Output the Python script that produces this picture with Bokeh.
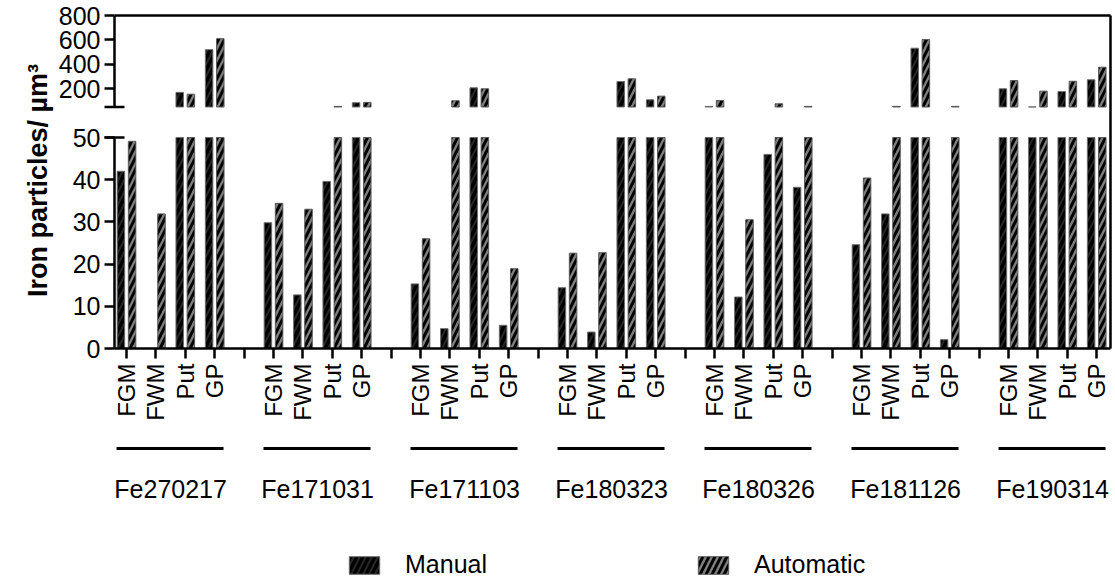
import numpy as np
from bokeh.plotting import figure
from bokeh.models import (Range1d, LinearAxis, FixedTicker, ColumnDataSource,
                          Legend, LegendItem)
from bokeh.core.properties import value
from bokeh.embed import file_html
from bokeh.resources import INLINE

# ---------------------------------------------------------------- data
groups = ["Fe270217", "Fe171031", "Fe171103", "Fe180323",
          "Fe180326", "Fe181126", "Fe190314"]
regions = ["FGM", "FWM", "Put", "GP"]

# iron particles per µm³, listed group by group in the order of `regions`
manual = [
    42.0, 0.0, 170, 520,
    29.8, 12.7, 39.6, 85,
    15.3, 4.7, 207, 5.5,
    14.4, 3.9, 259, 109,
    55, 12.2, 46.0, 38.2,
    24.6, 31.9, 532, 2.1,
    199, 51, 177, 273,
]
automatic = [
    49.1, 31.9, 155, 610,
    34.4, 33.0, 55, 88,
    26.0, 101, 199, 18.9,
    22.6, 22.7, 281, 139,
    103, 30.5, 76, 55,
    40.4, 55, 603, 55,
    267, 180, 261, 376,
]

low_ticks = [0, 10, 20, 30, 40, 50]
high_ticks = [200, 400, 600, 800]
BREAK = 50          # lower segment 0..50, upper segment 50..800
TOP = 800
YLABEL = "Iron particles/ µm³"
SERIES = ["Manual", "Automatic"]

# ---------------------------------------------------------------- geometry
W, H = 1115, 583
FONT = "Liberation Sans"
X0_PX, DX = 126.0, 29.4          # first category tick, category step
BASE_PX, LOW_STEP = 348.0, 4.22  # y of 0, pixels per unit (lower segment)
TOP_PX, BREAK_PX = 15.0, 106.5   # y of 800 and of 50 (upper segment)
HI_STEP = (BREAK_PX - TOP_PX) / (TOP - BREAK)

x_range = Range1d(-X0_PX / DX, (W - X0_PX) / DX)
y_range = Range1d(-(H - BASE_PX) / LOW_STEP, BASE_PX / LOW_STEP)
top_range = Range1d(BREAK - (H - BREAK_PX) / HI_STEP, BREAK + BREAK_PX / HI_STEP)


def low_y(px):
    return (BASE_PX - px) / LOW_STEP


AX_X = (114 - X0_PX) / DX        # y axis position in category units
RIGHT_X = (1110 - X0_PX) / DX
FRAME_TOP = low_y(TOP_PX)

p = figure(width=W, height=H, x_range=x_range, y_range=y_range,
           output_backend="svg", toolbar_location=None,
           x_axis_type=None, y_axis_type=None, min_border=0,
           outline_line_color=None, background_fill_color="white")
p.extra_y_ranges = {"top": top_range}
p.grid.visible = False

# ---------------------------------------------------------------- bars
n_slot = len(regions) + 1
pos = np.array([g * n_slot + r for g in range(len(groups))
                for r in range(len(regions))], dtype=float)
man = np.array(manual, dtype=float)
aut = np.array(automatic, dtype=float)

OFF, BW = 0.19, 0.255
man_style = dict(fill_color="black", line_color="#707070", line_width=1,
                 hatch_pattern="/", hatch_color="#262626", hatch_weight=2,
                 hatch_scale=12)
aut_style = dict(fill_color="#7f7f7f", line_color="#5a5a5a", line_width=1,
                 hatch_pattern="/", hatch_color="black", hatch_weight=3,
                 hatch_scale=12)

renderers = {}
for name, vals, off, style in (("Manual", man, -OFF, man_style),
                               ("Automatic", aut, OFF, aut_style)):
    low_src = ColumnDataSource(dict(x=pos + off, top=np.minimum(vals, BREAK)))
    r = p.vbar(x="x", top="top", bottom=0, width=BW, source=low_src, **style)
    renderers[name] = r
    hi = vals > BREAK
    hi_src = ColumnDataSource(dict(x=(pos + off)[hi], top=vals[hi]))
    p.vbar(x="x", top="top", bottom=BREAK, width=BW, source=hi_src,
           y_range_name="top", **style)

# ---------------------------------------------------------------- axes
def style_axis(ax, size="24px"):
    ax.axis_line_width = 2.5
    ax.axis_line_color = "black"
    ax.major_tick_line_width = 2.5
    ax.major_tick_line_color = "black"
    ax.major_tick_out = 10
    ax.major_tick_in = 0
    ax.minor_tick_line_color = None
    ax.major_label_text_font = FONT
    ax.major_label_text_font_size = size
    ax.major_label_text_color = "black"


y_low = LinearAxis(fixed_location=AX_X, bounds=(0, BREAK),
                   ticker=FixedTicker(ticks=low_ticks))
style_axis(y_low, "25px")
y_low.major_label_standoff = 4
p.add_layout(y_low, "left")

y_high = LinearAxis(y_range_name="top", fixed_location=AX_X,
                    bounds=(BREAK, TOP), ticker=FixedTicker(ticks=high_ticks))
style_axis(y_high, "25px")
y_high.major_label_standoff = 4
p.add_layout(y_high, "left")

tick_pos = list(range(len(groups) * n_slot - 1))
overrides = {}
for t in tick_pos:
    r = t % n_slot
    overrides[t] = regions[r] if r < len(regions) else ""
x_axis = LinearAxis(fixed_location=0, bounds=(AX_X, RIGHT_X),
                    ticker=FixedTicker(ticks=tick_pos),
                    major_label_overrides=overrides,
                    major_label_orientation=np.pi / 2)
style_axis(x_axis)
x_axis.major_label_standoff = 5
p.add_layout(x_axis, "below")

# frame lines along the top and the right
top_line = LinearAxis(fixed_location=FRAME_TOP, bounds=(AX_X, RIGHT_X),
                      ticker=FixedTicker(ticks=[]))
style_axis(top_line)
p.add_layout(top_line, "above")
right_line = LinearAxis(fixed_location=RIGHT_X, bounds=(0, FRAME_TOP),
                        ticker=FixedTicker(ticks=[]))
style_axis(right_line)
p.add_layout(right_line, "right")

# break marks where the two segments end
cap = 10 / DX
p.segment(x0=[AX_X - cap], x1=[AX_X + cap], y0=[BREAK], y1=[BREAK],
          line_color="black", line_width=2.5)
p.segment(x0=[AX_X - cap], x1=[AX_X + cap], y0=[BREAK], y1=[BREAK],
          line_color="black", line_width=2.5, y_range_name="top")

# y axis title
p.text(x=[(37 - X0_PX) / DX], y=[low_y(180)], text=[YLABEL], angle=np.pi / 2,
       text_font=value(FONT), text_font_style="bold", text_font_size="27px",
       text_align="center", text_baseline="alphabetic", text_color="black")

# group brackets and names under the region labels
starts = np.arange(len(groups)) * n_slot
p.segment(x0=starts - 0.34, x1=starts + 3.30, y0=low_y(448), y1=low_y(448),
          line_color="black", line_width=3)
p.text(x=starts + 1.5, y=low_y(488), text=groups, text_font=value(FONT),
       text_font_size="25px", text_align="center",
       text_baseline="alphabetic", text_color="black")

# ---------------------------------------------------------------- legend
legend = Legend(items=[LegendItem(label=SERIES[0], renderers=[renderers["Manual"]]),
                       LegendItem(label=SERIES[1], renderers=[renderers["Automatic"]])],
                orientation="horizontal", location=(345, 4),
                glyph_width=38, glyph_height=22, label_standoff=22,
                spacing=207, padding=0, margin=0, border_line_color=None,
                background_fill_alpha=0, label_text_font=FONT,
                label_text_font_size="25px", label_text_color="black")
p.add_layout(legend)

open("out.html", "w").write(file_html(p, INLINE))
